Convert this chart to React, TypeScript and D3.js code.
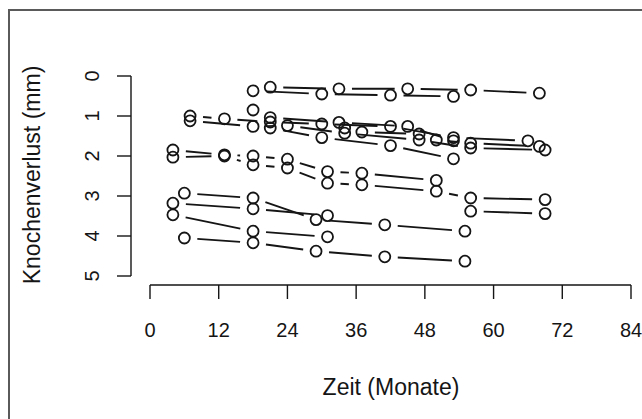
import React, { useEffect, useRef } from 'react';
import * as d3 from 'd3';

// Zeitpunkte (Monate) und Knochenverlust (mm) je Patient
const patientMonths: number[][] = [
  [18, 30, 42, 53],
  [21, 33, 45, 56, 68],
  [7, 13, 21, 30, 42, 53, 66],
  [7, 18, 24, 34, 47, 56, 69],
  [18, 21, 33, 45, 53],
  [21, 30, 42, 53],
  [34, 37, 47, 50, 56, 68],
  [4, 13, 18, 24, 31, 37, 50],
  [4, 13, 18, 24, 31, 37, 50, 56, 69],
  [56, 69],
  [6, 18, 29, 41, 55],
  [4, 18, 31],
  [4, 18, 31],
  [6, 18, 29, 41, 55],
];
const patientLoss: number[][] = [
  [0.37, 0.45, 0.48, 0.51],
  [0.28, 0.32, 0.32, 0.35, 0.43],
  [1.0, 1.07, 1.15, 1.2, 1.26, 1.54, 1.62],
  [1.12, 1.26, 1.24, 1.43, 1.6, 1.8, 1.85],
  [0.85, 1.04, 1.16, 1.26, 1.62],
  [1.3, 1.54, 1.74, 2.07],
  [1.3, 1.4, 1.45, 1.6, 1.68, 1.76],
  [1.85, 1.97, 2.0, 2.08, 2.39, 2.43, 2.61],
  [2.03, 2.0, 2.22, 2.3, 2.68, 2.72, 2.88, 3.05, 3.09],
  [3.38, 3.44],
  [2.93, 3.05, 3.59, 3.72, 3.88],
  [3.18, 3.32, 3.49],
  [3.47, 3.88, 4.02],
  [4.05, 4.17, 4.38, 4.52, 4.63],
];

const xTicks = [0, 12, 24, 36, 48, 60, 72, 84];
const yTicks = [0, 1, 2, 3, 4, 5];

const App = () => {
  const ref = useRef<SVGSVGElement>(null);

  useEffect(() => {
    const width = 642;
    const height = 419;
    const svg = d3.select(ref.current);
    svg.selectAll('*').remove();
    svg.attr('width', width).attr('height', height);

    const font = 'Liberation Sans, Arial, Helvetica, sans-serif';
    const ink = '#151515';

    // Rahmen (nur links und oben sichtbar)
    svg.append('rect')
      .attr('x', 9).attr('y', 10)
      .attr('width', 700).attr('height', 500)
      .attr('fill', 'none')
      .attr('stroke', '#5a5a5a')
      .attr('stroke-width', 2);

    const x = d3.scaleLinear().domain([0, 84]).range([150, 631]);
    const y = d3.scaleLinear().domain([0, 5]).range([76, 276]);

    // y-Achse (links, abgesetzt)
    const yAxis = svg.append('g').attr('transform', 'translate(131,0)');
    yAxis.append('line')
      .attr('x1', 0).attr('x2', 0)
      .attr('y1', y(0)).attr('y2', y(5))
      .attr('stroke', ink).attr('stroke-width', 1.4);
    yAxis.selectAll('line.tick')
      .data(yTicks)
      .enter()
      .append('line')
      .attr('class', 'tick')
      .attr('x1', 0).attr('x2', -14)
      .attr('y1', d => y(d)).attr('y2', d => y(d))
      .attr('stroke', ink).attr('stroke-width', 1.4);
    svg.selectAll('text.ylab')
      .data(yTicks)
      .enter()
      .append('text')
      .attr('class', 'ylab')
      .attr('transform', d => `translate(99,${y(d)}) rotate(-90)`)
      .attr('text-anchor', 'middle')
      .attr('font-family', font)
      .attr('font-size', 20)
      .attr('fill', ink)
      .text(d => d);

    // x-Achse (unten, abgesetzt)
    const xAxis = svg.append('g').attr('transform', 'translate(0,285)');
    xAxis.append('line')
      .attr('x1', x(0)).attr('x2', x(84))
      .attr('y1', 0).attr('y2', 0)
      .attr('stroke', ink).attr('stroke-width', 1.4);
    xAxis.selectAll('line.tick')
      .data(xTicks)
      .enter()
      .append('line')
      .attr('class', 'tick')
      .attr('x1', d => x(d)).attr('x2', d => x(d))
      .attr('y1', 0).attr('y2', 14)
      .attr('stroke', ink).attr('stroke-width', 1.4);
    xAxis.selectAll('text')
      .data(xTicks)
      .enter()
      .append('text')
      .attr('x', d => x(d))
      .attr('y', 52)
      .attr('text-anchor', 'middle')
      .attr('font-family', font)
      .attr('font-size', 20)
      .attr('fill', ink)
      .text(d => d);

    // Achsentitel
    svg.append('text')
      .attr('x', 391).attr('y', 395)
      .attr('text-anchor', 'middle')
      .attr('font-family', font)
      .attr('font-size', 23)
      .attr('fill', ink)
      .text('Zeit (Monate)');
    svg.append('text')
      .attr('transform', `translate(40,${y(2.5) - 1}) rotate(-90)`)
      .attr('text-anchor', 'middle')
      .attr('font-family', font)
      .attr('font-size', 23)
      .attr('fill', ink)
      .text('Knochenverlust (mm)');

    // Linien mit Lücken um die Punkte (wie type = "b")
    const gap = 13;
    const segments: { x1: number; y1: number; x2: number; y2: number }[] = [];
    patientMonths.forEach((months, i) => {
      const loss = patientLoss[i];
      for (let k = 1; k < months.length; k++) {
        const ax = x(months[k - 1]);
        const ay = y(loss[k - 1]);
        const bx = x(months[k]);
        const by = y(loss[k]);
        const len = Math.hypot(bx - ax, by - ay);
        if (len <= 2 * gap) continue;
        const ux = (bx - ax) / len;
        const uy = (by - ay) / len;
        segments.push({
          x1: ax + ux * gap, y1: ay + uy * gap,
          x2: bx - ux * gap, y2: by - uy * gap,
        });
      }
    });

    svg.append('g')
      .selectAll('line')
      .data(segments)
      .enter()
      .append('line')
      .attr('x1', d => d.x1).attr('y1', d => d.y1)
      .attr('x2', d => d.x2).attr('y2', d => d.y2)
      .attr('stroke', ink)
      .attr('stroke-width', 1.9);

    const points = patientMonths.flatMap((months, i) =>
      months.map((m, k) => ({ m, v: patientLoss[i][k] }))
    );

    svg.append('g')
      .selectAll('circle')
      .data(points)
      .enter()
      .append('circle')
      .attr('cx', d => x(d.m))
      .attr('cy', d => y(d.v))
      .attr('r', 5.5)
      .attr('fill', 'none')
      .attr('stroke', ink)
      .attr('stroke-width', 1.8);
  }, []);

  return (
    <svg
      ref={ref}
      style={{ position: 'absolute', left: 0, top: 0, background: '#fff' }}
    ></svg>
  );
};

export default App;
